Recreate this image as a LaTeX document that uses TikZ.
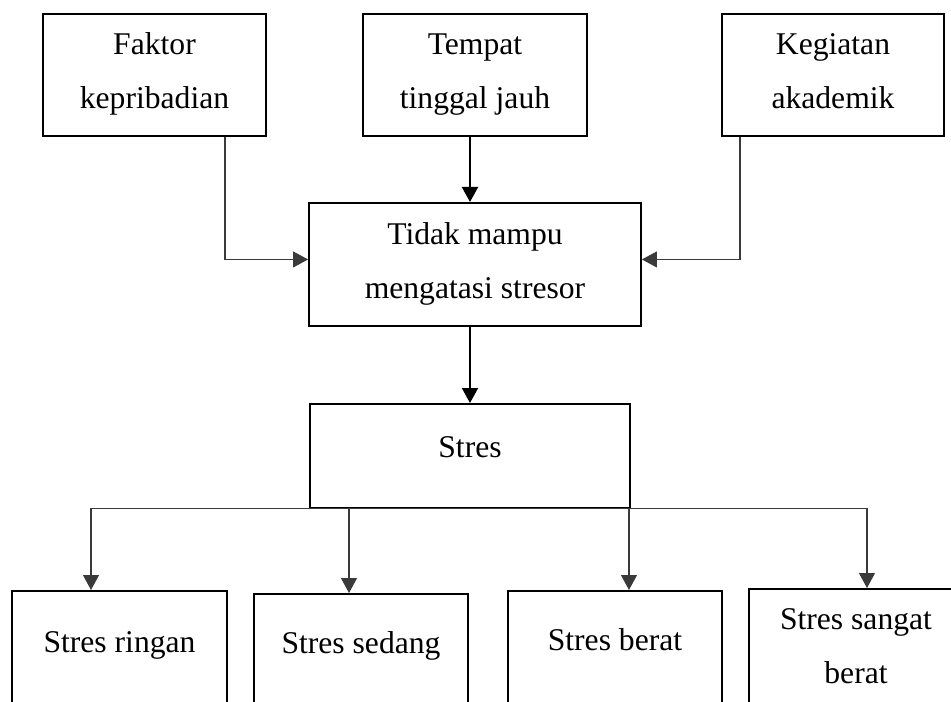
\documentclass[tikz,border=0pt]{standalone}
\usepackage{fontspec}
\setmainfont{Liberation Serif}
\usetikzlibrary{arrows.meta, positioning, calc}
\definecolor{boxline}{HTML}{000000}
\definecolor{linksoft}{HTML}{3A3A3A}

\begin{document}
\begin{tikzpicture}[x=0.02cm, y=-0.02cm,
  box/.style={draw=boxline, line width=1.1pt, align=center, inner sep=0pt, anchor=north,
    font=\fontsize{18}{31}\selectfont},
  topbox/.style={box, text height=1.9cm, text depth=0.54cm},
  lowbox/.style={box, minimum width=4.28cm, text depth=1.6cm},
  thinlink/.style={draw=linksoft, line width=0.6pt, -{Triangle[length=0.3cm, width=0.32cm]}},
  thicklink/.style={draw=black, line width=1.1pt, -{Triangle[length=0.3cm, width=0.32cm]}}]
  \useasboundingbox (0,0) rectangle (951,702);
  \clip (0,0) rectangle (951,702);
  % Causes
  \node[topbox, minimum width=4.46cm] (faktor) at (154.5,13) {Faktor\\kepribadian};
  \node[topbox, minimum width=4.48cm] (tempat) at (475,13) {Tempat\\tinggal jauh};
  \node[topbox, minimum width=4.44cm] (kegiatan) at (833,13) {Kegiatan\\akademik};
  \node[topbox, minimum width=6.64cm, text height=1.92cm] (tidak) at (475,202) {Tidak mampu\\mengatasi stresor};
  \node[box, minimum width=6.4cm, text height=1.08cm, text depth=1.0cm] (stres) at (470,403) {Stres};
  % Levels
  \node[lowbox, minimum width=4.3cm, text height=1.24cm] (ringan) at (119.5,590) {Stres ringan};
  \node[lowbox, text height=1.2cm] (sedang) at (361,593) {Stres sedang};
  \node[lowbox, text height=1.2cm] (berat) at (615,590) {Stres berat};
  \node[lowbox, text height=1.9cm, text depth=0.8cm] (sangat) at (856,588) {Stres sangat\\berat};
  % Links
  \draw[thinlink] ([xshift=1.41cm]faktor.south) |- ([yshift=0.1cm]tidak.west);
  \draw[thicklink] ([xshift=-0.1cm]tempat.south) -- ([xshift=-0.1cm]tempat.south |- tidak.north);
  \draw[thinlink] ([xshift=-1.86cm]kegiatan.south) |- ([yshift=0.1cm]tidak.east);
  \draw[thicklink] (tidak.south -| stres.north) -- (stres.north);
  \draw[thinlink] (stres.south) -| ([xshift=-0.57cm]ringan.north);
  \draw[thinlink] (stres.south) -| ([xshift=-0.24cm]sedang.north);
  \draw[thinlink] (stres.south) -| ([xshift=0.28cm]berat.north);
  \draw[thinlink] (stres.south) -| ([xshift=0.22cm]sangat.north);
\end{tikzpicture}
\end{document}
